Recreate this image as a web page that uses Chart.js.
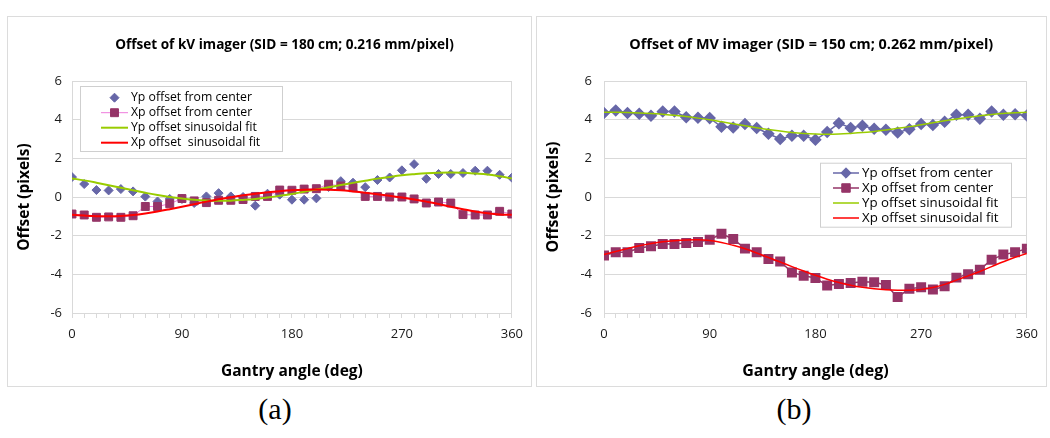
<!DOCTYPE html>
<html>
<head>
<meta charset="utf-8">
<script src="https://cdn.jsdelivr.net/npm/chart.js@4.4.1/dist/chart.umd.min.js"></script>
<style>
  html, body { margin: 0; padding: 0; background: #fff; }
  body { width: 1050px; height: 438px; position: relative; overflow: hidden; font-family: "Open Sans", "Liberation Sans", sans-serif; }
  .frame { position: absolute; top: 16px; height: 371px; border: 1px solid #DCDCDC; box-sizing: border-box; }
  .wrap { position: absolute; top: 16px; }
  .cap { position: absolute; top: 392px; width: 80px; margin-left: -40px; text-align: center; font-family: "Liberation Serif", "DejaVu Serif", serif; font-size: 30px; color: #000; }
</style>
</head>
<body>
<div class="frame" style="left:7px;width:525px;"></div>
<div class="frame" style="left:536px;width:511px;"></div>
<div class="wrap" style="left:7px;"><canvas id="kv" width="524" height="371"></canvas></div>
<div class="wrap" style="left:536px;"><canvas id="mv" width="510" height="371"></canvas></div>
<div class="cap" style="left:275px;">(a)</div>
<div class="cap" style="left:794px;">(b)</div>
<script>
// ---------- data ----------
const angles = [0,10,20,30,40,50,60,70,80,90,100,110,120,130,140,150,160,170,180,190,200,210,220,230,240,250,260,270,280,290,300,310,320,330,340,350,360];
const xTickLabels = [0,90,180,270,360];
const yTicks = [-6,-4,-2,0,2,4,6];

// (a) kV imager
const kvYp    = [1.03,0.67,0.36,0.34,0.41,0.29,0.02,-0.23,-0.10,-0.10,-0.31,0.03,0.20,0.03,0.00,-0.45,0.17,0.12,-0.14,-0.14,-0.07,0.52,0.82,0.74,0.51,0.88,1.01,1.38,1.70,0.94,1.19,1.19,1.24,1.36,1.36,1.15,1.00];
const kvXp    = [-0.88,-0.93,-1.05,-1.03,-1.05,-0.97,-0.49,-0.49,-0.35,-0.08,-0.20,-0.29,-0.17,-0.17,-0.13,0.03,0.03,0.36,0.35,0.41,0.43,0.66,0.57,0.48,0.03,0.03,0.00,0.00,-0.10,-0.31,-0.26,-0.31,-0.91,-0.93,-0.93,-0.74,-0.88];
const kvYpFit = [0.96,0.86,0.74,0.61,0.48,0.35,0.22,0.10,0.00,-0.08,-0.14,-0.18,-0.20,-0.19,-0.15,-0.10,-0.03,0.06,0.16,0.27,0.39,0.50,0.62,0.73,0.84,0.95,1.04,1.12,1.18,1.23,1.26,1.27,1.25,1.21,1.16,1.07,0.96];
const kvXpFit = [-0.92,-0.96,-0.99,-1.00,-0.98,-0.93,-0.85,-0.75,-0.63,-0.50,-0.37,-0.24,-0.12,-0.01,0.09,0.17,0.24,0.30,0.35,0.38,0.39,0.38,0.35,0.29,0.22,0.14,0.06,-0.03,-0.13,-0.24,-0.36,-0.50,-0.63,-0.75,-0.84,-0.90,-0.92];

// (b) MV imager
const mvYp    = [4.34,4.48,4.34,4.31,4.20,4.42,4.42,4.13,4.10,4.08,3.63,3.60,3.77,3.57,3.27,3.00,3.17,3.17,2.96,3.36,3.82,3.57,3.68,3.53,3.48,3.34,3.51,3.77,3.72,3.89,4.25,4.25,4.05,4.42,4.25,4.28,4.22];
const mvXp    = [-3.03,-2.86,-2.86,-2.64,-2.55,-2.43,-2.43,-2.38,-2.33,-2.21,-1.90,-2.17,-2.67,-2.86,-3.21,-3.34,-3.90,-4.07,-4.19,-4.58,-4.50,-4.45,-4.38,-4.41,-4.55,-5.17,-4.75,-4.67,-4.79,-4.62,-4.17,-4.00,-3.76,-3.24,-2.98,-2.86,-2.67];
const mvYpFit = [4.38,4.38,4.37,4.35,4.32,4.28,4.23,4.16,4.08,3.99,3.89,3.79,3.68,3.58,3.49,3.41,3.34,3.29,3.26,3.25,3.26,3.29,3.33,3.39,3.46,3.55,3.64,3.74,3.84,3.94,4.04,4.12,4.20,4.27,4.32,4.36,4.38];
const mvXpFit = [-2.97,-2.82,-2.67,-2.52,-2.41,-2.32,-2.26,-2.22,-2.21,-2.25,-2.35,-2.50,-2.68,-2.90,-3.13,-3.36,-3.60,-3.83,-4.05,-4.25,-4.42,-4.56,-4.67,-4.75,-4.80,-4.82,-4.82,-4.78,-4.68,-4.52,-4.30,-4.08,-3.85,-3.60,-3.35,-3.12,-2.92];

const kvTitle = 'Offset of kV imager (SID = 180 cm; 0.216 mm/pixel)';
const mvTitle = 'Offset of MV imager (SID = 150 cm; 0.262 mm/pixel)';
const xTitle = 'Gantry angle (deg)';
const yTitle = 'Offset (pixels)';
const kvLabels = ['Yp offset from center','Xp offset from center','Yp offset sinusoidal fit','Xp offset  sinusoidal fit'];
const mvLabels = ['Yp offset from center','Xp offset from center','Yp offset sinusoidal fit','Xp offset sinusoidal fit'];

// ---------- styling ----------
const FONT = '"Open Sans"';
const C_YP = '#6767A8';
const C_XP = '#953467';
const C_XP_LINE_A = '#EE7ADC';
const C_GREEN = '#99CC00';
const C_RED = '#FF0000';
const C_GRID = '#D9D9D9';

const pts = arr => arr.map((v, i) => ({ x: angles[i], y: v }));

// font size that makes `text` span `target` px
function fitFont(ctx, weight, text, target) {
  ctx.font = weight + ' 20px ' + FONT;
  const w = ctx.measureText(text).width;
  return weight + ' ' + (20 * target / w).toFixed(2) + 'px ' + FONT;
}

function drawMarker(ctx, style, r, x, y, color) {
  ctx.fillStyle = color; ctx.strokeStyle = color; ctx.lineWidth = 1;
  ctx.beginPath();
  if (style === 'rectRot') {
    ctx.moveTo(x, y - r); ctx.lineTo(x + r, y); ctx.lineTo(x, y + r); ctx.lineTo(x - r, y); ctx.closePath();
  } else {
    const s = r * Math.SQRT1_2;
    ctx.rect(x - s, y - s, 2 * s, 2 * s);
  }
  ctx.fill(); ctx.stroke();
}

const overlay = {
  id: 'overlay',
  afterDraw(chart, args, o) {
    const ctx = chart.ctx;
    ctx.save();
    ctx.fillStyle = '#000';
    ctx.font = fitFont(ctx, 'bold', o.title, o.titleW);
    ctx.textAlign = 'center';
    ctx.textBaseline = 'middle';
    ctx.fillText(o.title, o.titleX, o.titleY);
    const L = o.legend;
    ctx.fillStyle = '#fff';
    ctx.fillRect(L.x, L.y, L.w, L.h);
    ctx.strokeStyle = '#CFCFCF'; ctx.lineWidth = 1;
    ctx.strokeRect(L.x + 0.5, L.y + 0.5, L.w, L.h);
    const lf = fitFont(ctx, 'normal', chart.data.datasets[0].label, L.textW);
    chart.data.datasets.forEach((ds, i) => {
      const y = L.y0 + i * L.step;
      if (ds.showLine !== false) {
        ctx.strokeStyle = ds.borderColor; ctx.lineWidth = ds.borderWidth;
        ctx.beginPath(); ctx.moveTo(L.lx0, y); ctx.lineTo(L.lx1, y); ctx.stroke();
      }
      if (ds.pointRadius > 0) {
        drawMarker(ctx, ds.pointStyle, ds.pointRadius, (L.lx0 + L.lx1) / 2, y, ds.pointBackgroundColor);
      }
      ctx.fillStyle = '#000';
      ctx.font = lf;
      ctx.textAlign = 'left';
      ctx.textBaseline = 'middle';
      ctx.fillText(ds.label, L.tx, y);
    });
    ctx.restore();
  }
};

function makeChart(id, cfg) {
  return new Chart(document.getElementById(id), {
    type: 'line',
    data: { datasets: cfg.datasets },
    plugins: [overlay],
    options: {
      responsive: false,
      animation: false,
      events: [],
      layout: { padding: { left: 0, right: cfg.padRight, top: 65, bottom: 0 } },
      plugins: {
        legend: { display: false },
        title: { display: false },
        tooltip: { enabled: false },
        overlay: cfg.overlay
      },
      scales: {
        x: {
          type: 'linear', min: 0, max: 360,
          afterFit(s) { s.height = cfg.xHeight; },
          afterBuildTicks(s) { s.ticks = angles.map(v => ({ value: v })); },
          ticks: {
            autoSkip: false, maxRotation: 0, minRotation: 0, padding: cfg.xTickPad,
            font: { family: FONT, size: cfg.tickSize }, color: '#1a1a1a',
            callback: v => xTickLabels.includes(v) ? String(v) : ''
          },
          grid: {
            drawOnChartArea: true,
            color: c => (c.tick && c.tick.value === 360) ? C_GRID : 'rgba(0,0,0,0)',
            tickColor: C_GRID, tickLength: 5, lineWidth: 1
          },
          border: { color: C_GRID },
          title: { display: true, text: xTitle, color: '#000',
                   font: { family: FONT, size: cfg.axisTitleSize, weight: 'bold' },
                   padding: { top: 0, bottom: cfg.xTitlePadBottom } }
        },
        y: {
          min: -6, max: 6,
          afterFit(s) { s.width = cfg.yWidth; },
          afterBuildTicks(s) { s.ticks = yTicks.map(v => ({ value: v })); },
          ticks: { padding: cfg.yTickPad, font: { family: FONT, size: cfg.tickSize }, color: '#1a1a1a' },
          grid: { color: C_GRID, drawTicks: false, lineWidth: 1 },
          border: { color: C_GRID },
          title: { display: true, text: yTitle, color: '#000',
                   font: { family: FONT, size: cfg.axisTitleSize, weight: 'bold' },
                   padding: { top: 8, bottom: 0 } }
        }
      }
    }
  });
}

// (a)
makeChart('kv', {
  padRight: 19, xHeight: 74, yWidth: 65, xTickPad: 8, yTickPad: 10, tickSize: 13,
  axisTitleSize: 15.5, xTitlePadBottom: 6,
  overlay: {
    title: kvTitle, titleW: 339, titleX: 277.5, titleY: 29,
    legend: { x: 73, y: 70, w: 202, h: 65, y0: 81.7, step: 15, lx0: 94, lx1: 121, tx: 124, textW: 121 }
  },
  datasets: [
    { label: kvLabels[0], data: pts(kvYp), showLine: false, pointStyle: 'rectRot', pointRadius: 4.5,
      pointBackgroundColor: C_YP, pointBorderColor: C_YP, borderColor: C_YP, borderWidth: 1, order: 4 },
    { label: kvLabels[1], data: pts(kvXp), pointStyle: 'rect', pointRadius: 5.6,
      pointBackgroundColor: C_XP, pointBorderColor: C_XP, borderColor: C_XP_LINE_A, borderWidth: 1, tension: 0, order: 3 },
    { label: kvLabels[2], data: pts(kvYpFit), pointRadius: 0, borderColor: C_GREEN, borderWidth: 2, tension: 0.4, order: 2 },
    { label: kvLabels[3], data: pts(kvXpFit), pointRadius: 0, borderColor: C_RED, borderWidth: 2, tension: 0.4, order: 1 }
  ]
});

// (b)
makeChart('mv', {
  padRight: 18, xHeight: 74, yWidth: 68, xTickPad: 8, yTickPad: 12, tickSize: 13,
  axisTitleSize: 16, xTitlePadBottom: 6,
  overlay: {
    title: mvTitle, titleW: 364, titleX: 275.3, titleY: 29,
    legend: { x: 284, y: 146.7, w: 191, h: 64, y0: 157, step: 15, lx0: 297, lx1: 323, tx: 326, textW: 131 }
  },
  datasets: [
    { label: mvLabels[0], data: pts(mvYp), pointStyle: 'rectRot', pointRadius: 5.2,
      pointBackgroundColor: C_YP, pointBorderColor: C_YP, borderColor: C_YP, borderWidth: 1.5, tension: 0, order: 4 },
    { label: mvLabels[1], data: pts(mvXp), pointStyle: 'rect', pointRadius: 6,
      pointBackgroundColor: C_XP, pointBorderColor: C_XP, borderColor: C_XP, borderWidth: 1.5, tension: 0, order: 3 },
    { label: mvLabels[2], data: pts(mvYpFit), pointRadius: 0, borderColor: C_GREEN, borderWidth: 1.5, tension: 0.4, order: 2 },
    { label: mvLabels[3], data: pts(mvXpFit), pointRadius: 0, borderColor: C_RED, borderWidth: 1.5, tension: 0.4, order: 1 }
  ]
});
</script>
</body>
</html>
